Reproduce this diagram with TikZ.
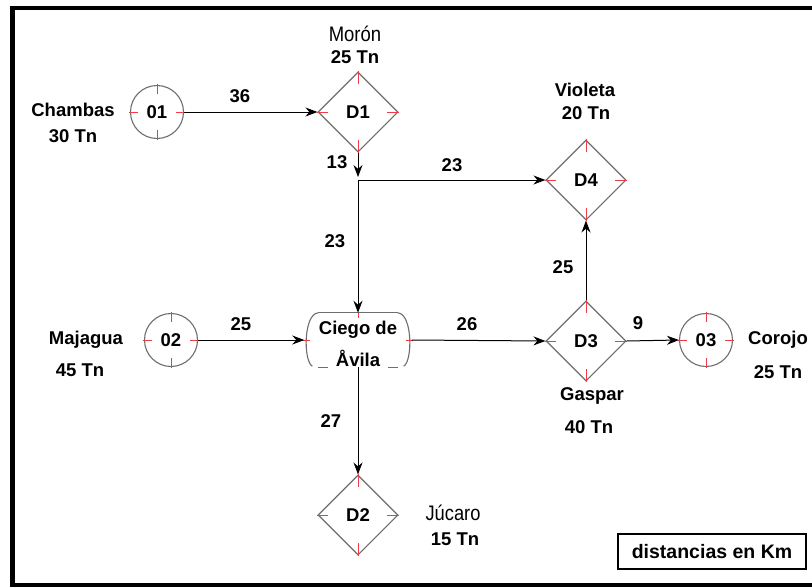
\documentclass[tikz,border=0pt]{standalone}
\usepackage{fontspec}
\usepackage{graphicx}
\setmainfont{Liberation Sans}
\usetikzlibrary{shapes.geometric,arrows.meta}
\definecolor{shapegray}{RGB}{110,110,110}
\definecolor{tickred}{RGB}{240,60,70}
\tikzset{
  lbl/.style={font=\fontsize{18.5}{20}\selectfont\bfseries, inner sep=0pt},
  reglbl/.style={font=\fontsize{21}{23}\selectfont, inner sep=0pt},
  circ/.style={circle, draw=shapegray, line width=1.1pt, minimum size=53pt, inner sep=0pt, font=\fontsize{18.5}{20}\selectfont\bfseries},
  diam/.style={diamond, draw=shapegray, line width=1.1pt, minimum width=80pt, minimum height=80pt, inner sep=0pt, font=\fontsize{18.5}{20}\selectfont\bfseries},
  conn/.style={draw=black, line width=1pt, -{Stealth[length=12pt,width=9pt]}},
  tick/.style={draw=tickred, line width=1pt},
  outline/.style={draw=shapegray, line width=1.1pt},
  frame/.style={draw=black, line width=4.5pt}
}
\newcommand\cticks[1]{%
  \draw[tick] ([yshift=1pt]#1.north) -- ([yshift=-9pt]#1.north);
  \draw[tick] ([yshift=-1pt]#1.south) -- ([yshift=9pt]#1.south);
  \draw[tick] ([xshift=-1pt]#1.west) -- ([xshift=8pt]#1.west);
  \draw[tick] ([xshift=1pt]#1.east) -- ([xshift=-8pt]#1.east);}
\newcommand\dticks[1]{%
  \draw[tick] (#1.north) -- ([yshift=-13pt]#1.north);
  \draw[tick] (#1.south) -- ([yshift=13pt]#1.south);
  \draw[tick] (#1.west) -- ([xshift=11pt]#1.west);
  \draw[tick] (#1.east) -- ([xshift=-12pt]#1.east);}
\begin{document}
\begin{tikzpicture}[x=1pt,y=-1pt]
\useasboundingbox (0,0) rectangle (812,587);
\fill[white] (0,0) rectangle (812,587);
% frame (no right side)
\draw[frame] (812,8) -- (12.5,8) -- (12.5,585) -- (812,585);

% nodes
\node[circ] (o1) at (157,112) {01};
\node[circ] (o2) at (171,340) {02};
\node[circ] (o3) at (706,340) {03};
\node[diam] (d1) at (358,112) {D1};
\node[diam] (d4) at (586,180) {D4};
\node[diam] (d3) at (586,341) {D3};
\node[diam] (d2) at (358,515) {D2};
\node[minimum width=107pt, minimum height=54pt, inner sep=0pt] (ca) at (358,340) {};
\node[lbl] (cat) at (358,330) {Ciego de};
\node[lbl] (cab) at (358,358) {Åvila};
\coordinate (J) at (358,180);

% Ciego de Avila outline
\draw[outline] ([xshift=14pt]ca.north west) -- ([xshift=-14pt]ca.north east);
\draw[outline] ([xshift=14pt]ca.north west) .. controls ([xshift=-1pt,yshift=-1pt]ca.north west) and ([xshift=-1pt,yshift=6pt]ca.south west) .. ([xshift=8pt,yshift=1pt]ca.south west);
\draw[outline] ([xshift=-14pt]ca.north east) .. controls ([xshift=1pt,yshift=-1pt]ca.north east) and ([xshift=1pt,yshift=6pt]ca.south east) .. ([xshift=-8pt,yshift=1pt]ca.south east);
\draw[outline] ([xshift=14pt]ca.south west) -- ([xshift=24pt]ca.south west);
\draw[outline] ([xshift=-14pt]ca.south east) -- ([xshift=-24pt]ca.south east);
\draw[tick] (ca.north) -- ([yshift=-5pt]ca.north);
\draw[tick] ([xshift=-1pt]ca.west) -- ([xshift=6pt]ca.west);
\draw[tick] ([xshift=1pt]ca.east) -- ([xshift=-6pt]ca.east);

\cticks{o1}\cticks{o2}\cticks{o3}
\dticks{d1}\dticks{d2}\dticks{d3}\dticks{d4}

% connectors
\draw[conn] (o1.east) -- (d1.west);
\draw[conn, shorten >=3pt] (d1.south) -- (J);
\draw[conn] (J) -- (d4.west);
\draw[conn] (J) -- (ca.north);
\draw[conn] (o2.east) -- (ca.west);
\draw[conn] (ca.east) -- (d3.west);
\draw[conn] (d3.east) -- (o3.west);
\draw[conn] (d3.north) -- (d4.south);
\draw[conn] (ca.south) -- (d2.north);

% edge labels
\node[lbl] (l36) at (240,96) {36};
\node[lbl] (l13) at (337,162) {13};
\node[lbl] (l23a) at (452,165) {23};
\node[lbl] (l23b) at (335,241) {23};
\node[lbl] (l25a) at (241,324) {25};
\node[lbl] (l26) at (467,324) {26};
\node[lbl] (l9) at (638,323) {9};
\node[lbl] (l25b) at (563,267) {25};
\node[lbl] (l27) at (331,421) {27};

% place labels
\node[reglbl] (moron) at (355,34) {\scalebox{0.88}[1]{Morón}};
\node[lbl] (moront) at (355,57) {25 Tn};
\node[lbl] (chambas) at (73,110) {Chambas};
\node[lbl] (chambast) at (73,136) {30 Tn};
\node[lbl] (violeta) at (585,90) {Violeta};
\node[lbl] (violetat) at (586,113) {20 Tn};
\node[lbl] (majagua) at (86,340) {Majagua};
\node[lbl] (majaguat) at (80,370) {45 Tn};
\node[lbl] (corojo) at (778,340) {Corojo};
\node[lbl] (corojot) at (778,372) {25 Tn};
\node[lbl] (gaspar) at (592,396) {Gaspar};
\node[lbl] (gaspart) at (589,427) {40 Tn};
\node[reglbl] (jucaro) at (453,513) {\scalebox{0.87}[1]{Júcaro}};
\node[lbl] (jucarot) at (455,539) {15 Tn};

\node[draw=black, line width=1.6pt, minimum width=188pt, minimum height=35pt, inner sep=0pt, font=\fontsize{19.5}{21}\selectfont\bfseries] (km) at (712,551.5) {distancias en Km};
\end{tikzpicture}
\end{document}
